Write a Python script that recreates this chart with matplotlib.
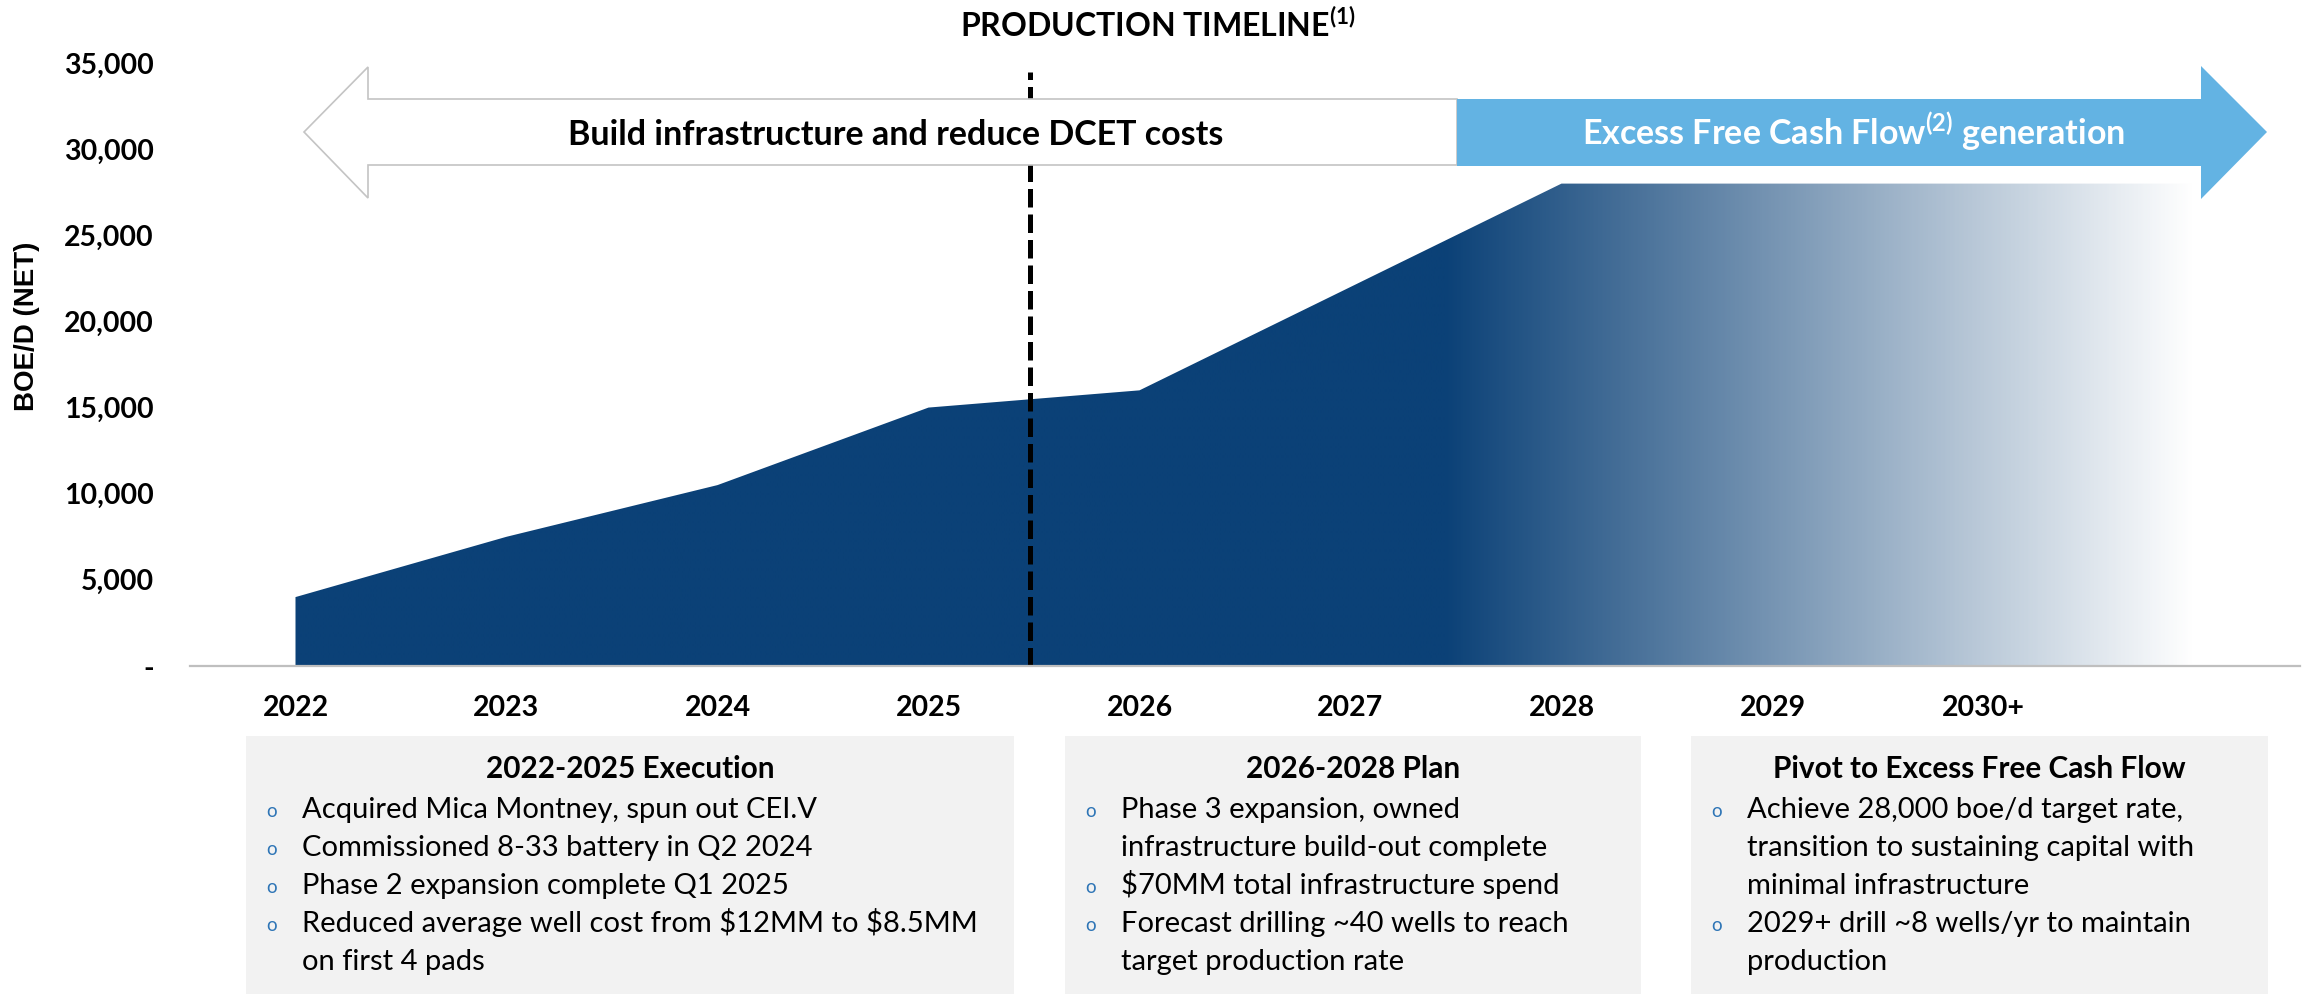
import numpy as np
import matplotlib
matplotlib.use("Agg")
import matplotlib.pyplot as plt
from matplotlib.colors import LinearSegmentedColormap
from matplotlib.patches import Polygon, Rectangle

plt.rcParams['font.family'] = ['Lato', 'DejaVu Sans']
plt.rcParams['mathtext.fontset'] = 'custom'
plt.rcParams['mathtext.rm'] = 'Lato'
plt.rcParams['mathtext.bf'] = 'Lato:bold'

# ---- data ----
years = ["2022", "2023", "2024", "2025", "2026", "2027", "2028", "2029", "2030+", ""]
boed = [4000, 7500, 10500, 15000, 16000, 22000, 28000, 28000, 28000, 28000]
y_ticks = [0, 5000, 10000, 15000, 20000, 25000, 30000, 35000]
y_tick_labels = ["-", "5,000", "10,000", "15,000", "20,000", "25,000", "30,000", "35,000"]
split_at = 3.48      # dashed divider between 2025 and 2026
fade_from = 5.44     # gradient starts here (x index)

title = "PRODUCTION TIMELINE$^{\\mathbf{(1)}}$"
left_arrow_text = "Build infrastructure and reduce DCET costs"
right_arrow_text = "Excess Free Cash Flow$^{\\mathbf{(2)}}$ generation"

box_titles = ["2022-2025 Execution", "2026-2028 Plan", "Pivot to Excess Free Cash Flow"]
box_bullets = [
    [["Acquired Mica Montney, spun out CEI.V"],
     ["Commissioned 8-33 battery in Q2 2024"],
     ["Phase 2 expansion complete Q1 2025"],
     ["Reduced average well cost from $12MM to $8.5MM", "on first 4 pads"]],
    [["Phase 3 expansion, owned", "infrastructure build-out complete"],
     ["$70MM total infrastructure spend"],
     ["Forecast drilling ~40 wells to reach", "target production rate"]],
    [["Achieve 28,000 boe/d target rate,", "transition to sustaining capital with", "minimal infrastructure"],
     ["2029+ drill ~8 wells/yr to maintain", "production"]],
]

navy = "#0B4177"
sky = "#63B3E3"
W, H = 2305, 994

fig = plt.figure(figsize=(W / 100, H / 100), dpi=100)

# main chart axes
ax = fig.add_axes([190 / W, (H - 666) / H, (2300 - 190) / W, (666 - 63) / H])
x = np.arange(len(boed))
poly = ax.fill_between(x, boed, 0, color="none", lw=0)

cmap = LinearSegmentedColormap.from_list("fade", [navy, "#FFFFFF"])
xs = np.linspace(-0.5, 9.5, 1200)
t = np.clip((xs - fade_from) / (x[-1] - fade_from), 0, 1)
im = ax.imshow(t[None, :], extent=(-0.5, 9.5, 0, 35000), aspect="auto", cmap=cmap,
               vmin=0, vmax=1, origin="lower", interpolation="bilinear", zorder=1)
im.set_clip_path(poly.get_paths()[0], transform=ax.transData)

ax.plot([split_at, split_at], [0, 34500], color="black", lw=3.6,
        linestyle=(0, (3.7, 1.4)), zorder=3)

ax.set_xlim(-0.5, 9.5)
ax.set_ylim(0, 35000)
ax.set_xticks(x)
ax.set_xticklabels(years, fontsize=20.5, fontweight="bold")
ax.set_yticks(y_ticks)
ax.set_yticklabels(y_tick_labels, fontsize=20.5, fontweight="bold")
ax.tick_params(axis="x", length=0, pad=21)
ax.tick_params(axis="y", length=0, pad=26)
for s in ["top", "right", "left"]:
    ax.spines[s].set_visible(False)
ax.spines["bottom"].set_color("#BFBFBF")
ax.spines["bottom"].set_linewidth(1.6)
ax.spines["bottom"].set_zorder(4)
ax.patch.set_alpha(0)

# overlay in pixel coordinates for arrows, boxes and notes
ov = fig.add_axes([0, 0, 1, 1], zorder=5)
ov.set_xlim(0, W)
ov.set_ylim(H, 0)
ov.axis("off")
ov.patch.set_alpha(0)

ov.add_patch(Polygon([(304, 132), (368, 67), (368, 99), (1457, 99), (1457, 165),
                      (368, 165), (368, 198)], closed=True,
                     facecolor="white", edgecolor="#C4C4C4", lw=1.2))
ov.add_patch(Polygon([(1457, 99), (2201, 99), (2201, 66), (2267, 132), (2201, 199),
                      (2201, 166), (1457, 166)], closed=True,
                     facecolor=sky, edgecolor="none"))

ov.text(1158, 37, title, ha="center", va="baseline", fontsize=23, fontweight="bold")
ov.text(896, 145, left_arrow_text, ha="center", va="baseline", fontsize=24.5, fontweight="bold")
ov.text(1854, 145, right_arrow_text, ha="center", va="baseline", fontsize=24.5,
        fontweight="bold", color="white")

fig.text(27 / W, 1 - 326 / H, "BOE/D (NET)", rotation=90, ha="center", va="center",
         fontsize=20, fontweight="bold", family="Liberation Sans")

boxes = [(246, 1014), (1065, 1641), (1691, 2268)]
for (x0, x1), head, items in zip(boxes, box_titles, box_bullets):
    ov.add_patch(Rectangle((x0, 736), x1 - x0, H - 736, facecolor="#F2F2F2", edgecolor="none"))
    ov.text((x0 + x1) / 2, 778, head, ha="center", va="baseline", fontsize=21.4, fontweight="bold")
    row = 0
    for item in items:
        ov.text(x0 + 26, 818 + 38 * row - 1, "o", ha="center", va="baseline",
                fontsize=13.5, color="#2E75B6")
        for line in item:
            ov.text(x0 + 56, 818 + 38 * row, line, ha="left", va="baseline",
                    fontsize=21, parse_math=False)
            row += 1

fig.savefig("out.png", dpi=100)
